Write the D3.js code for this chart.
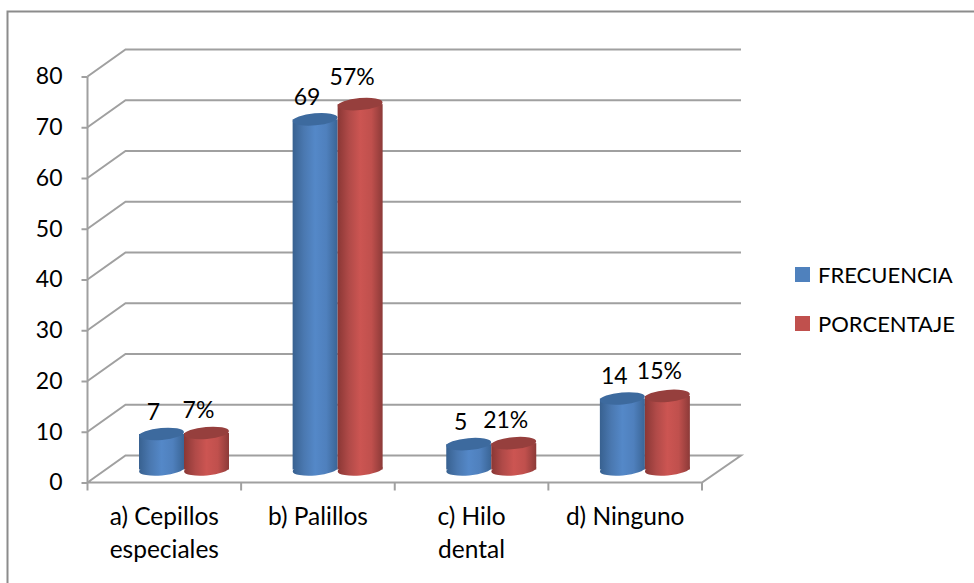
<!DOCTYPE html>
<html><head><meta charset="utf-8">
<script src="https://cdn.jsdelivr.net/npm/d3@7"></script>
<style>html,body{margin:0;background:#fff}svg{display:block}text{font-family:Lato,sans-serif;fill:#000}</style>
</head><body><svg id="c" width="974" height="583"></svg>
<script>
const categories=[["a) Cepillos","especiales"],["b) Palillos"],["c) Hilo","dental"],["d) Ninguno"]];
const seriesNames=["FRECUENCIA","PORCENTAJE"];
const frecuencia=[7,69,5,14];
const porcentajeAltura=[7.2,72,5.2,14.5];
const frecuenciaLabels=["7","69","5","14"];
const porcentajeLabels=["7%","57%","21%","15%"];
const ticks=[0,10,20,30,40,50,60,70,80];

const svg=d3.select("#c");
const fsNum=23, fsCat=24.5, fsLeg=22;
const L=87.5,R=702,Y0=482.5,Y80=76.5,DX=38,DY=-27;
const grid="#a0a0a0";
const y=d3.scaleLinear().domain([0,80]).range([Y0,Y80]);
const x=d3.scaleBand().domain(d3.range(categories.length)).range([L,R]);

svg.append("path").attr("d","M7.5,583V11.5H974").attr("fill","none").attr("stroke","#8c8c8c").attr("stroke-width",2);

const defs=svg.append("defs");
[["g0",["#386190","#4a78b0","#5488c8","#4f80bd","#3a6596"]],["g1",["#8a3735","#b04a48","#cc5552","#c0504d","#8c3a38"]]].forEach(([id,cols])=>{
 const g=defs.append("linearGradient").attr("id",id).attr("gradientUnits","objectBoundingBox");
 cols.forEach((c,i)=>g.append("stop").attr("offset",i/(cols.length-1)).attr("stop-color",c));
});

const gg=svg.append("g").attr("fill","none").attr("stroke",grid).attr("stroke-width",2);
ticks.forEach(t=>{
 if(t>0) gg.append("path").attr("d",`M${L},${y(t)}L${L+DX},${y(t)+DY}H${R+DX+1}`);
});
gg.append("path").attr("d",`M${L},${Y0}L${L+DX},${Y0+DY}H${R+DX+1}L${R},${Y0}Z`);
gg.append("path").attr("d",`M${L},${Y80}V${Y0}`);

const ax=svg.append("g").attr("transform",`translate(${L},0)`).call(d3.axisLeft(y).tickValues(ticks).tickSize(6).tickPadding(19));
ax.select(".domain").remove();
ax.selectAll("line").attr("stroke",grid).attr("stroke-width",2);
ax.selectAll("text").attr("font-size",fsNum).style("font-family","Lato,sans-serif").attr("fill","#000");

const bx=svg.append("g").attr("transform",`translate(0,${Y0})`).call(d3.axisBottom(x).tickValues(d3.range(5)).tickFormat("").tickSize(8));
bx.select(".domain").remove();
bx.selectAll("g.tick").attr("transform",d=>`translate(${L+d*x.step()},0)`);
bx.selectAll("line").attr("stroke",grid).attr("stroke-width",2);

categories.forEach((lines,i)=>{
 const cx=x(i)+x.step()/2;
 const t=svg.append("text").attr("text-anchor","middle").attr("font-size",fsCat);
 lines.forEach((s,k)=>t.append("tspan").attr("x",cx).attr("y",525+k*33).text(s));
});

const barW=45, ry=6, baseY=469.5, tilt=-5;
const h=d3.scaleLinear().domain([0,80]).range([0,Y0-Y80]);
function cyl(px,val,id,topc){
 const cx=px+barW/2,top=baseY-h(val),rx=barW/2;
 const g=svg.append("g");
 g.append("ellipse").attr("cx",cx).attr("cy",baseY).attr("rx",rx).attr("ry",ry).attr("transform",`rotate(${tilt} ${cx} ${baseY})`).attr("fill",`url(#${id})`);
 g.append("rect").attr("x",px).attr("y",top).attr("width",barW).attr("height",baseY-top).attr("fill",`url(#${id})`);
 g.append("ellipse").attr("cx",cx).attr("cy",top).attr("rx",rx).attr("ry",ry).attr("transform",`rotate(${tilt} ${cx} ${top})`).attr("fill",topc);
}
d3.range(4).forEach(i=>{
 const b=x(i)+51.5;
 cyl(b,frecuencia[i],"g0","#3d6a9e");
 cyl(b+barW,porcentajeAltura[i],"g1","#963f3d");
 svg.append("text").attr("x",b+barW/2-8).attr("y",baseY-h(frecuencia[i])-14).attr("text-anchor","middle").attr("font-size",fsNum).text(frecuenciaLabels[i]);
 const lift=porcentajeAltura[i]>50?19:porcentajeAltura[i]>10?17:15;
 svg.append("text").attr("x",b+barW*1.5-8).attr("y",baseY-h(porcentajeAltura[i])-lift).attr("text-anchor","middle").attr("font-size",fsNum).text(porcentajeLabels[i]);
});

const cols=["#4f81bd","#c0504d"];
seriesNames.forEach((s,i)=>{
 const top=267+i*49;
 svg.append("rect").attr("x",795).attr("y",top).attr("width",15).attr("height",15).attr("fill",cols[i]);
 svg.append("text").attr("x",818).attr("y",top+16).attr("font-size",fsLeg).text(s);
});
</script></body></html>
